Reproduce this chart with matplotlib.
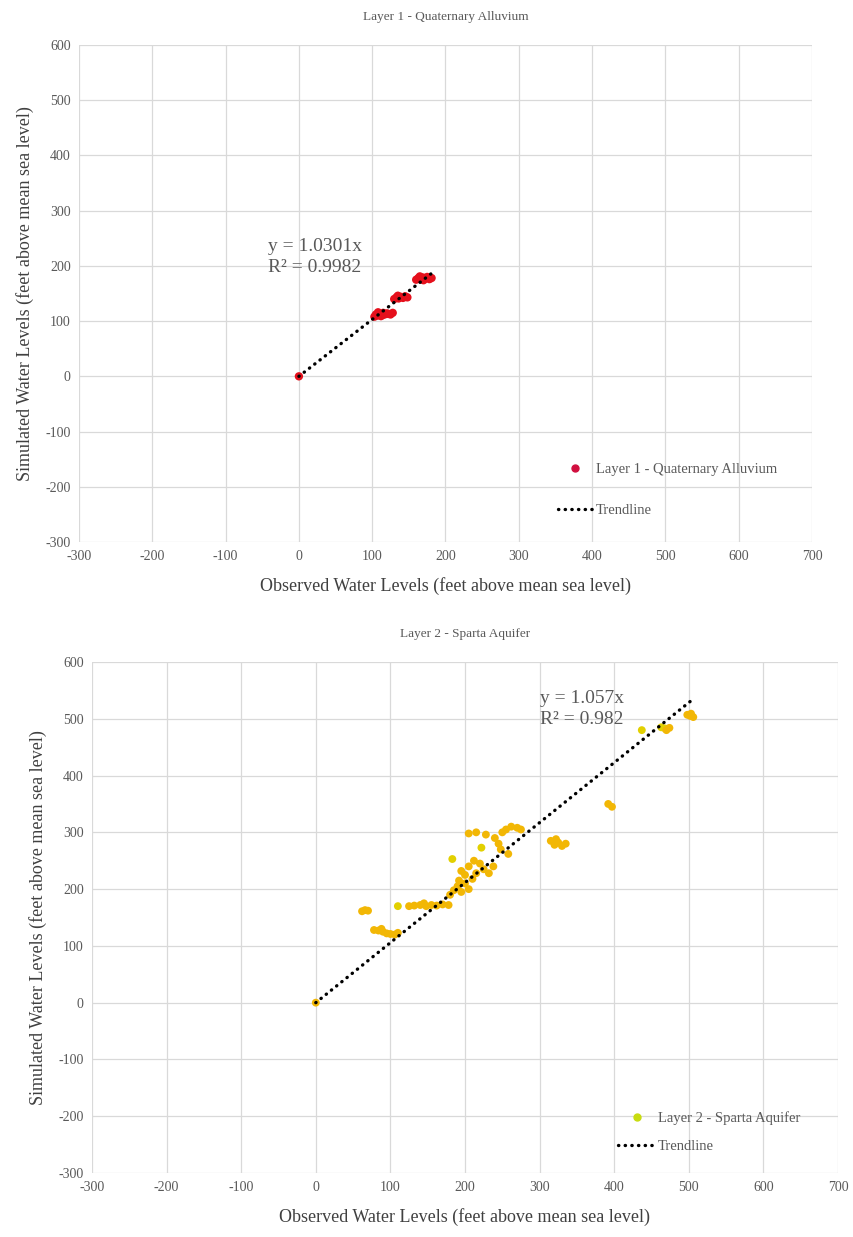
import numpy as np
import matplotlib
matplotlib.use('Agg')
from matplotlib import pyplot as plt
from matplotlib.lines import Line2D

plt.rcParams['font.family'] = ['Liberation Serif', 'DejaVu Serif']
plt.rcParams['axes.unicode_minus'] = False

# Layer 1 - Quaternary Alluvium (observed, simulated)
lay1_obs = [0, 103, 105, 107, 110, 112, 114, 117, 120, 122, 125, 128, 108, 115,
            130, 133, 136, 139, 142, 145, 148, 135,
            160, 163, 166, 169, 172, 175, 178, 181, 165, 170]
lay1_sim = [0, 108, 112, 110, 113, 109, 111, 112, 114, 113, 112, 115, 116, 115,
            140, 143, 141, 144, 142, 145, 143, 146,
            175, 178, 176, 179, 177, 180, 176, 178, 181, 174]
slope1 = 1.0301
r2_1 = 0.9982

# Layer 2 - Sparta Aquifer (observed, simulated)
lay2_obs = [0, 62, 66, 70,
            78, 84, 90, 95, 100, 106, 110, 88,
            110, 125, 132, 140, 148, 155, 162, 170, 178, 145,
            180, 185, 190, 195, 200, 205, 210, 200, 192,
            183, 195, 205, 212, 220, 225, 232, 238, 215,
            205, 215, 228, 240, 245, 250, 255, 262, 270, 275, 248, 258, 222,
            315, 320, 325, 330, 335, 322,
            392, 397, 437, 463, 468, 474, 470, 498, 502, 506, 503]
lay2_sim = [0, 161, 163, 162,
            128, 127, 125, 122, 121, 120, 123, 130,
            170, 170, 171, 172, 170, 172, 171, 173, 172, 175,
            190, 198, 205, 195, 210, 200, 218, 225, 215,
            253, 232, 240, 250, 245, 235, 228, 240, 228,
            298, 300, 296, 290, 280, 300, 305, 310, 308, 305, 270, 262, 273,
            285, 278, 282, 276, 280, 288,
            350, 345, 480, 485, 483, 484, 480, 507, 505, 503, 509]
slope2 = 1.057
r2_2 = 0.982

ticks = list(range(-300, 701, 100))
yticks = list(range(-300, 601, 100))
grey = '#595959'
gridc = '#d9d9d9'
dots = (0, (0.1, 1.9))

fig = plt.figure(figsize=(8.54, 12.37), dpi=100)


def make_axes(rect):
    ax = fig.add_axes(rect)
    ax.set_xlim(-300, 700)
    ax.set_ylim(-300, 600)
    ax.set_xticks(ticks)
    ax.set_yticks(yticks)
    ax.grid(True, color=gridc, linewidth=0.9)
    ax.set_axisbelow(True)
    for s in ax.spines.values():
        s.set_visible(False)
    ax.tick_params(length=0, labelsize=10, labelcolor=grey, pad=6)
    return ax


def trend(ax, obs, slope):
    xm = max(obs)
    ax.plot([0, xm], [0, slope * xm], color='black', lw=2.4,
            linestyle=dots, dash_capstyle='round', zorder=3)


# top chart
ax1 = make_axes([79 / 854, 1 - 542 / 1237, 733 / 854, 497 / 1237])
ax1.scatter(lay1_obs, lay1_sim, s=36, color='#e5101c', edgecolors='none', zorder=2)
trend(ax1, lay1_obs, slope1)
ax1.text(-42, 216, 'y = {}x\nR² = {}'.format(slope1, r2_1), fontsize=14,
         color=grey, ha='left', va='center', linespacing=1.3)
ax1.set_title('Layer 1 - Quaternary Alluvium', fontsize=9.5, color=grey, pad=18)
ax1.set_xlabel('Observed Water Levels (feet above mean sea level)', fontsize=13,
               color='#404040', labelpad=10)
ax1.set_ylabel('Simulated Water Levels (feet above mean sea level)', fontsize=13,
               color='#404040', labelpad=8)
h1 = [Line2D([], [], marker='o', color='#d10f3f', ls='none', markersize=5),
      Line2D([], [], color='black', lw=2.4, linestyle=dots,
             dash_capstyle='round')]
ax1.legend(h1, ['Layer 1 - Quaternary Alluvium', 'Trendline'], loc='upper left',
           bbox_to_anchor=(0.653, 0.16), frameon=False, fontsize=10.5,
           handlelength=2.4, handletextpad=0.2, labelspacing=1.9,
           borderpad=0, borderaxespad=0, labelcolor=grey)

# bottom chart
ax2 = make_axes([92 / 854, 1 - 1173 / 1237, 746 / 854, 511 / 1237])
cols2 = ['#f2b705'] * len(lay2_obs)
for i in [12, 31, 52, 61, 62, 63]:
    cols2[i] = '#e2d000'
ax2.scatter(lay2_obs, lay2_sim, s=32, c=cols2, edgecolors='none', zorder=2)
trend(ax2, lay2_obs, slope2)
ax2.text(301, 517, 'y = {}x\nR² = {}'.format(slope2, r2_2), fontsize=14,
         color=grey, ha='left', va='center', linespacing=1.3)
ax2.set_title('Layer 2 - Sparta Aquifer', fontsize=9.5, color=grey, pad=18)
ax2.set_xlabel('Observed Water Levels (feet above mean sea level)', fontsize=13,
               color='#404040', labelpad=10)
ax2.set_ylabel('Simulated Water Levels (feet above mean sea level)', fontsize=13,
               color='#404040', labelpad=8)
h2 = [Line2D([], [], marker='o', color='#c8dc10', ls='none', markersize=5),
      Line2D([], [], color='black', lw=2.4, linestyle=dots,
             dash_capstyle='round')]
ax2.legend(h2, ['Layer 2 - Sparta Aquifer', 'Trendline'], loc='upper left',
           bbox_to_anchor=(0.705, 0.12), frameon=False, fontsize=10.5,
           handlelength=2.6, handletextpad=0.15, labelspacing=1.0,
           borderpad=0, borderaxespad=0, labelcolor=grey)

fig.savefig('out.png', dpi=100)
